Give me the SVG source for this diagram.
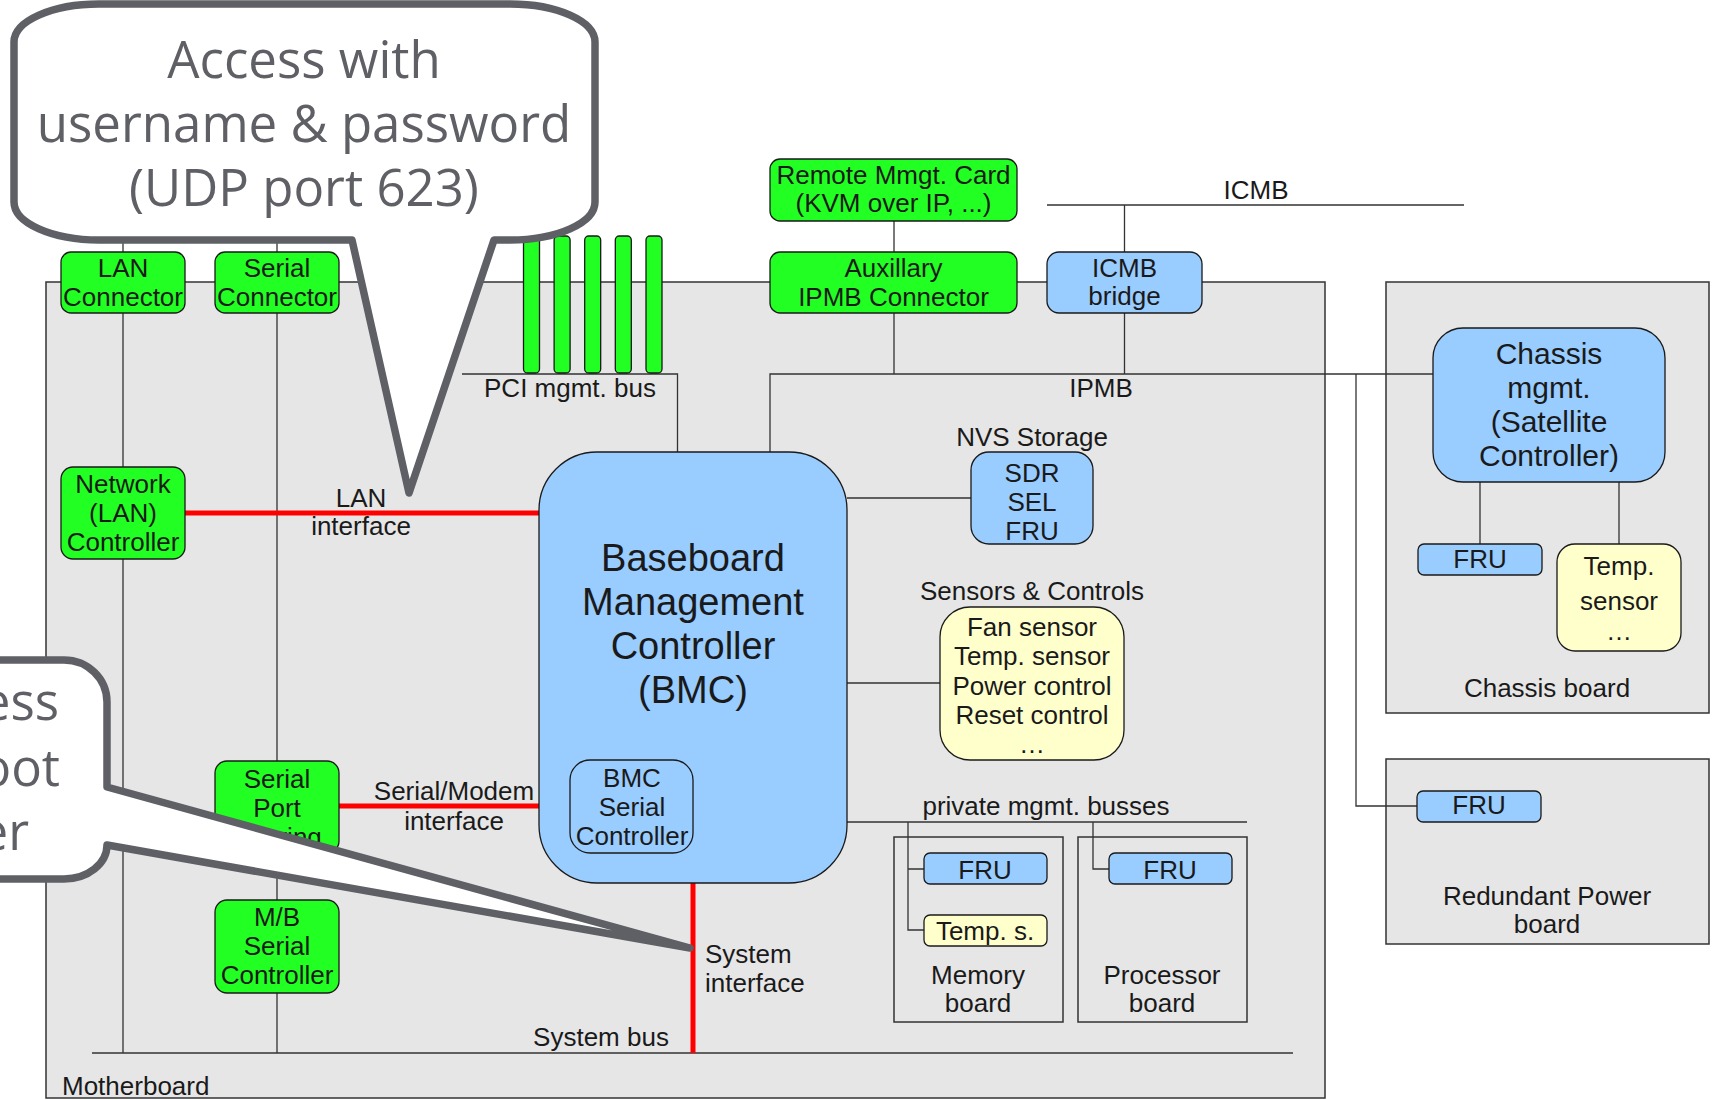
<svg xmlns="http://www.w3.org/2000/svg" width="1716" height="1100" viewBox="0 0 1716 1100">
<defs>
<style>
.board{fill:#e6e6e6;stroke:#333;stroke-width:1.5}
.bx{stroke:#1a1a1a;stroke-width:1.3}
.g{fill:#22ff22}
.b{fill:#99ccff}
.y{fill:#ffffcc}
.ln{fill:none;stroke:#333;stroke-width:1.3}
.red{fill:none;stroke:#ff0000;stroke-width:5}
text{font-family:"Liberation Sans",Arial,sans-serif;font-size:26px;fill:#1a1a1a;text-anchor:middle}
.st{text-anchor:start}
.big{font-size:38px}
.mid{font-size:30px}
.call{fill:#ffffff;stroke:#5f6065;stroke-width:7.5;stroke-linejoin:round}
.ct{font-family:"Open Sans","Noto Sans",sans-serif;font-size:51px;fill:#5f6065}
</style>
</defs>
<rect width="1716" height="1100" fill="#ffffff"/>

<g id="boards">
<rect id="motherboard" class="board" x="46" y="282" width="1279" height="816"/>
<rect id="chassis-board" class="board" x="1386" y="282" width="323" height="431"/>
<rect id="redundant-board" class="board" x="1386" y="759" width="323" height="185"/>
<rect id="memory-board" class="board" x="894" y="837" width="169" height="185"/>
<rect id="processor-board" class="board" x="1078" y="837" width="169" height="185"/>
</g>

<g id="connectors">
<path class="ln" d="M123,236 V467 M123,559 V1053"/>
<path class="ln" d="M277,236 V761 M277,853 V900 M277,993 V1053"/>
<path class="ln" d="M92,1053 H1293"/>
<path class="ln" d="M462,374 H677.5 V452"/>
<path class="ln" d="M894,221 V252 M894,313 V374"/>
<path class="ln" d="M770,452 V374 H1433"/>
<path class="ln" d="M1047,205 H1464 M1124.5,205 V252 M1124.5,313 V374"/>
<path class="ln" d="M1356,374 V806 H1417"/>
<path class="ln" d="M1480,482 V544 M1619,482 V544"/>
<path class="ln" d="M847,498 H971 M847,683 H940 M847,822 H1247"/>
<path class="ln" d="M908,822 V930 H924 M908,869 H924"/>
<path class="ln" d="M1093,822 V869 H1109"/>
<path class="red" d="M185,513 H539"/>
<path class="red" d="M338,806 H570"/>
<path class="red" d="M693,883 V1053"/>
</g>

<g id="labels">
<text x="570" y="397">PCI mgmt. bus</text>
<text x="1101" y="397">IPMB</text>
<text x="1256" y="199">ICMB</text>
<text x="1032" y="446">NVS Storage</text>
<text x="1032" y="600">Sensors &amp; Controls</text>
<text x="1046" y="815">private mgmt. busses</text>
<text x="361" y="507">LAN</text>
<text x="361" y="535">interface</text>
<text x="454" y="800">Serial/Modem</text>
<text x="454" y="830">interface</text>
<text class="st" x="705" y="963">System</text>
<text class="st" x="705" y="992">interface</text>
<text x="601" y="1046">System bus</text>
<text class="st" x="62" y="1095">Motherboard</text>
<text x="978" y="984">Memory</text>
<text x="978" y="1012">board</text>
<text x="1162" y="984">Processor</text>
<text x="1162" y="1012">board</text>
<text x="1547" y="697">Chassis board</text>
<text x="1547" y="905">Redundant Power</text>
<text x="1547" y="933">board</text>
</g>

<g id="pci-slots">
<rect class="bx g" x="523.5" y="236" width="16" height="137" rx="4"/>
<rect class="bx g" x="554.1" y="236" width="16" height="137" rx="4"/>
<rect class="bx g" x="584.7" y="236" width="16" height="137" rx="4"/>
<rect class="bx g" x="615.3" y="236" width="16" height="137" rx="4"/>
<rect class="bx g" x="646" y="236" width="16" height="137" rx="4"/>
</g>

<g id="lan-connector">
<rect class="bx g" x="61" y="252" width="124" height="61" rx="10"/>
<text x="123" y="277">LAN</text>
<text x="123" y="306">Connector</text>
</g>
<g id="serial-connector">
<rect class="bx g" x="215" y="252" width="124" height="61" rx="10"/>
<text x="277" y="277">Serial</text>
<text x="277" y="306">Connector</text>
</g>
<g id="network-controller">
<rect class="bx g" x="61" y="467" width="124" height="92" rx="12"/>
<text x="123" y="493">Network</text>
<text x="123" y="522">(LAN)</text>
<text x="123" y="551">Controller</text>
</g>
<g id="serial-port-sharing">
<rect class="bx g" x="215" y="761" width="124" height="92" rx="12"/>
<text x="277" y="788">Serial</text>
<text x="277" y="817">Port</text>
<text x="277" y="846">Sharing</text>
</g>
<g id="mb-serial-controller">
<rect class="bx g" x="215" y="900" width="124" height="93" rx="12"/>
<text x="277" y="926">M/B</text>
<text x="277" y="955">Serial</text>
<text x="277" y="984">Controller</text>
</g>
<g id="remote-card">
<rect class="bx g" x="770" y="159" width="247" height="62" rx="10"/>
<text x="893.5" y="184">Remote Mmgt. Card</text>
<text x="893.5" y="212">(KVM over IP, ...)</text>
</g>
<g id="aux-ipmb">
<rect class="bx g" x="770" y="252" width="247" height="61" rx="10"/>
<text x="893.5" y="277">Auxillary</text>
<text x="893.5" y="306">IPMB Connector</text>
</g>
<g id="icmb-bridge">
<rect class="bx b" x="1047" y="252" width="155" height="61" rx="12"/>
<text x="1124.5" y="277">ICMB</text>
<text x="1124.5" y="305">bridge</text>
</g>
<g id="bmc">
<rect class="bx b" x="539" y="452" width="308" height="431" rx="58"/>
<text class="big" x="693" y="571">Baseboard</text>
<text class="big" x="693" y="615">Management</text>
<text class="big" x="693" y="659">Controller</text>
<text class="big" x="693" y="703">(BMC)</text>
</g>
<g id="bmc-serial">
<rect class="bx b" x="570" y="760" width="123" height="93" rx="20"/>
<text x="632" y="787">BMC</text>
<text x="632" y="816">Serial</text>
<text x="632" y="845">Controller</text>
</g>
<g id="nvs">
<rect class="bx b" x="971" y="452" width="122" height="92" rx="18"/>
<text x="1032" y="482">SDR</text>
<text x="1032" y="511">SEL</text>
<text x="1032" y="540">FRU</text>
</g>
<g id="sensors">
<rect class="bx y" x="940" y="607" width="184" height="153" rx="30"/>
<text x="1032" y="636">Fan sensor</text>
<text x="1032" y="665">Temp. sensor</text>
<text x="1032" y="695">Power control</text>
<text x="1032" y="724">Reset control</text>
<text x="1032" y="753">…</text>
</g>
<g id="mem-fru">
<rect class="bx b" x="924" y="853" width="123" height="31" rx="6"/>
<text x="985" y="879">FRU</text>
</g>
<g id="mem-temp">
<rect class="bx y" x="924" y="915" width="123" height="31" rx="6"/>
<text x="985" y="940">Temp. s.</text>
</g>
<g id="proc-fru">
<rect class="bx b" x="1109" y="853" width="123" height="31" rx="6"/>
<text x="1170" y="879">FRU</text>
</g>
<g id="chassis-mgmt">
<rect class="bx b" x="1433" y="328" width="232" height="154" rx="30"/>
<text class="mid" x="1549" y="364">Chassis</text>
<text class="mid" x="1549" y="398">mgmt.</text>
<text class="mid" x="1549" y="432">(Satellite</text>
<text class="mid" x="1549" y="466">Controller)</text>
</g>
<g id="chassis-fru">
<rect class="bx b" x="1418" y="544" width="124" height="31" rx="6"/>
<text x="1480" y="568">FRU</text>
</g>
<g id="chassis-temp">
<rect class="bx y" x="1557" y="544" width="124" height="107" rx="18"/>
<text x="1619" y="575">Temp.</text>
<text x="1619" y="610">sensor</text>
<text x="1619" y="640">…</text>
</g>
<g id="redundant-fru">
<rect class="bx b" x="1417" y="791" width="124" height="31" rx="6"/>
<text x="1479" y="814">FRU</text>
</g>

<g id="callout-lan">
<path class="call" d="M99,4 H510 A85 38 0 0 1 595,42 V202 A85 38 0 0 1 510,240 H494 L409,493 L352,240 H99 A85 38 0 0 1 14,202 V42 A85 38 0 0 1 99,4 Z"/>
<text class="ct" x="304" y="78">Access with</text>
<text class="ct" x="304" y="142">username &amp; password</text>
<text class="ct" x="304" y="206">(UDP port 623)</text>
</g>
<g id="callout-serial">
<path class="call" d="M-300,660 H64 A43 42 0 0 1 107,702 V787 L690,948 L107,845 A43 34 0 0 1 64,879 H-300 Z"/>
<text class="ct" style="text-anchor:end" x="59" y="720">ess</text>
<text class="ct" style="text-anchor:end" x="60" y="786">oot</text>
<text class="ct" style="text-anchor:end" x="29" y="850">er</text>
</g>
</svg>
